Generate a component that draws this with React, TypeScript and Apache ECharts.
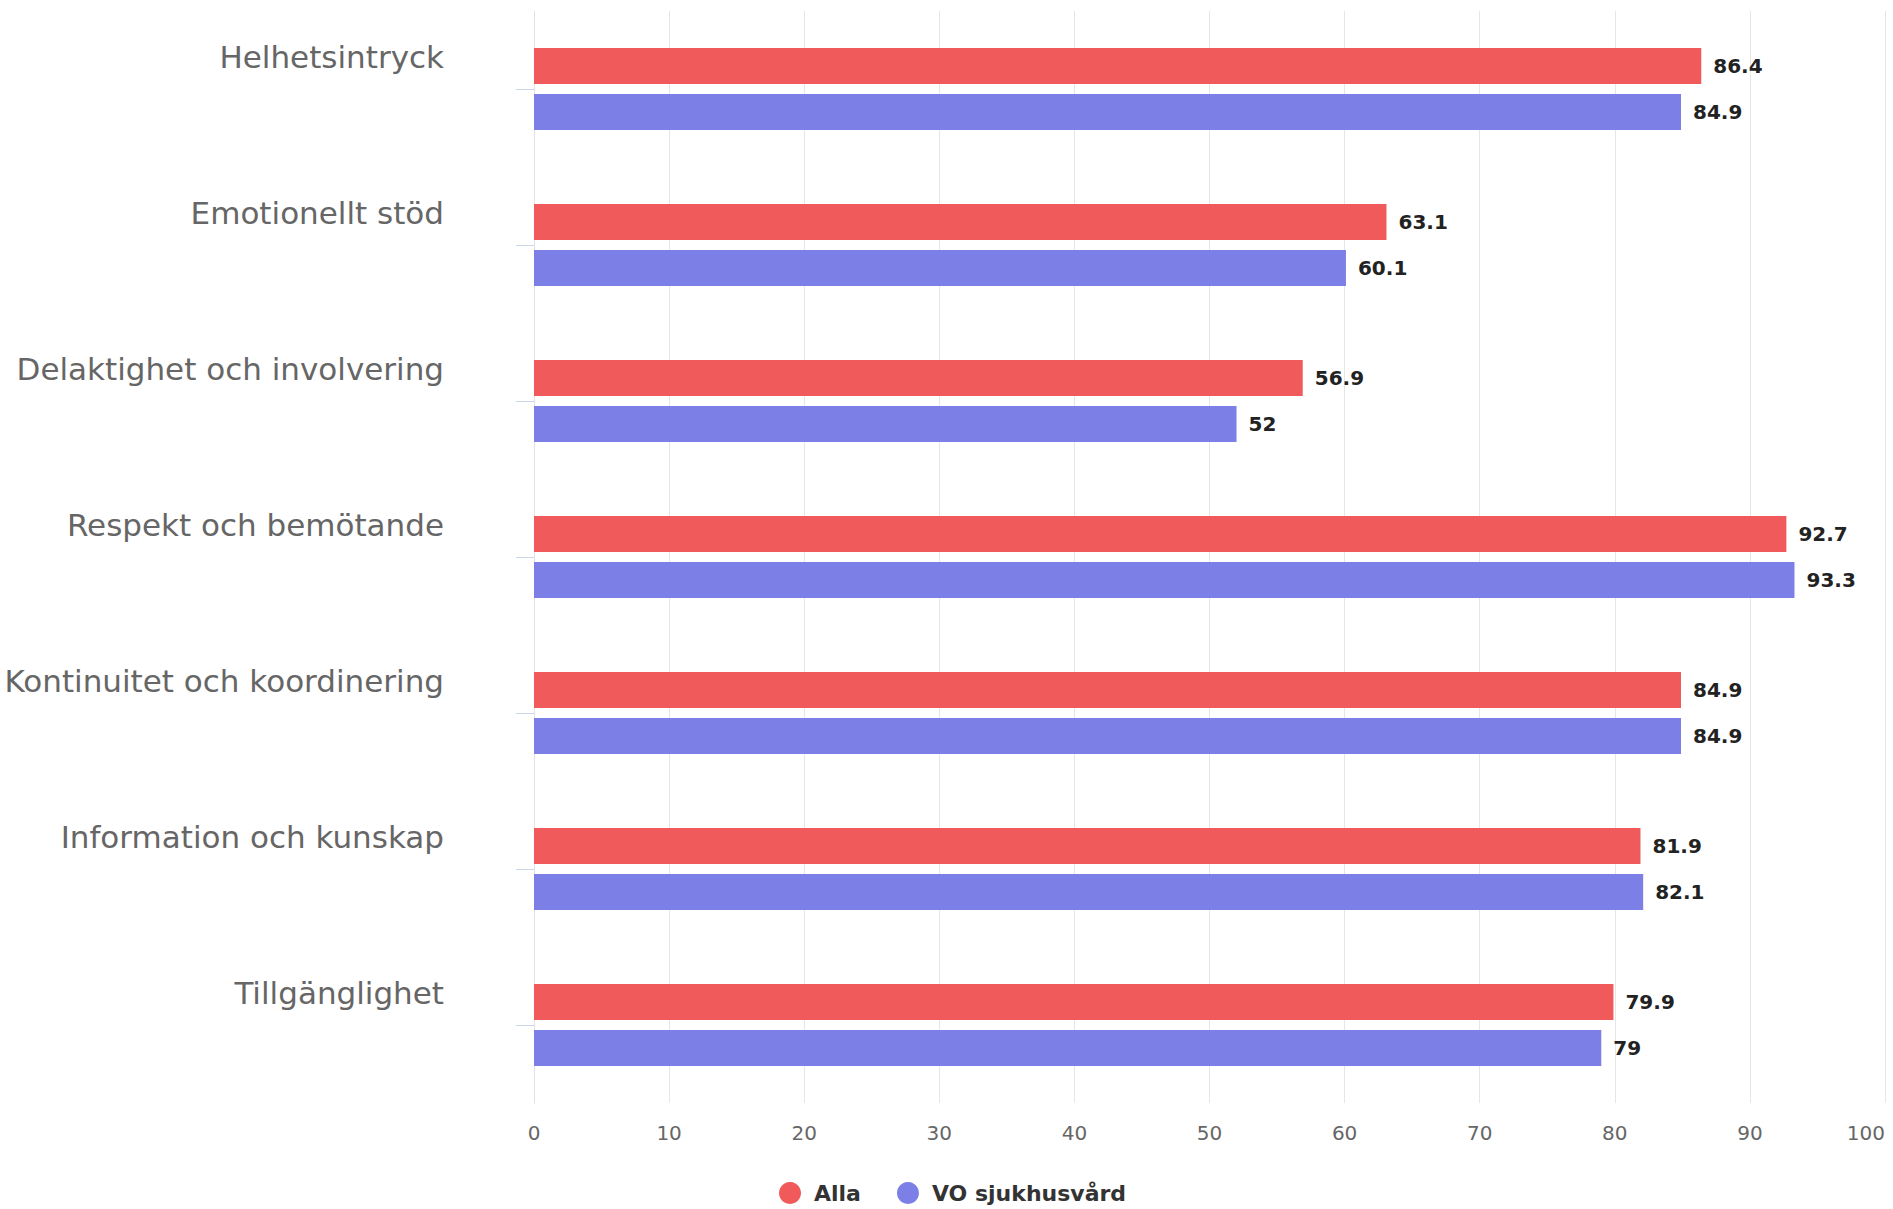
import React, { useEffect, useRef } from "react";
import * as echarts from "echarts";

const categories = [
  "Helhetsintryck",
  "Emotionellt stöd",
  "Delaktighet och involvering",
  "Respekt och bemötande",
  "Kontinuitet och koordinering",
  "Information och kunskap",
  "Tillgänglighet",
];
const allaValues = [86.4, 63.1, 56.9, 92.7, 84.9, 81.9, 79.9];
const voValues = [84.9, 60.1, 52, 93.3, 84.9, 82.1, 79];
const seriesNames = ["Alla", "VO sjukhusvård"];

export default function App() {
  const ref = useRef<HTMLDivElement>(null);
  useEffect(() => {
    if (!ref.current) return;
    const chart = echarts.init(ref.current, undefined, { renderer: "svg" });
    const valueLabel = {
      show: true,
      position: "right",
      distance: 12,
      fontFamily: "DejaVu Sans",
      fontWeight: "bold",
      fontSize: 20,
      color: "#222",
    };
    chart.setOption({
      animation: false,
      backgroundColor: "#ffffff",
      grid: { left: 534, right: 8, top: 11, bottom: 106, containLabel: false },
      legend: {
        left: 774,
        top: 1177,
        itemWidth: 22,
        itemHeight: 22,
        itemGap: 36,
        icon: "circle",
        data: seriesNames,
        textStyle: {
          fontFamily: "DejaVu Sans",
          fontWeight: "bold",
          fontSize: 22,
          color: "#333",
          padding: [0, 0, 0, 8],
        },
      },
      xAxis: {
        type: "value",
        min: 0,
        max: 100,
        interval: 10,
        axisLine: { show: false },
        axisTick: { show: false },
        splitLine: { show: true, lineStyle: { color: "#e6e6e6", width: 1 } },
        axisLabel: {
          margin: 20,
          fontFamily: "DejaVu Sans",
          fontSize: 20,
          color: "#666",
          alignMaxLabel: "right",
        },
      },
      yAxis: {
        type: "category",
        data: categories,
        inverse: true,
        axisLine: { show: true, lineStyle: { color: "#dfe3ea", width: 1 } },
        axisTick: {
          show: true,
          alignWithLabel: true,
          length: 18,
          lineStyle: { color: "#ccd6eb" },
        },
        axisLabel: {
          margin: 90,
          fontFamily: "DejaVu Sans",
          fontSize: 31,
          lineHeight: 31,
          color: "#666",
          verticalAlign: "bottom",
          padding: [0, 0, 17, 0],
        },
      },
      series: [
        {
          name: seriesNames[0],
          type: "bar",
          data: allaValues,
          barWidth: 36,
          barGap: "28%",
          itemStyle: { color: "#F05A5A" },
          label: valueLabel,
        },
        {
          name: seriesNames[1],
          type: "bar",
          data: voValues,
          barWidth: 36,
          itemStyle: { color: "#7C80E6" },
          label: valueLabel,
        },
      ],
    });
    return () => chart.dispose();
  }, []);
  return (
    <div
      ref={ref}
      style={{ position: "fixed", left: 0, top: 0, width: 1893, height: 1209 }}
    />
  );
}
